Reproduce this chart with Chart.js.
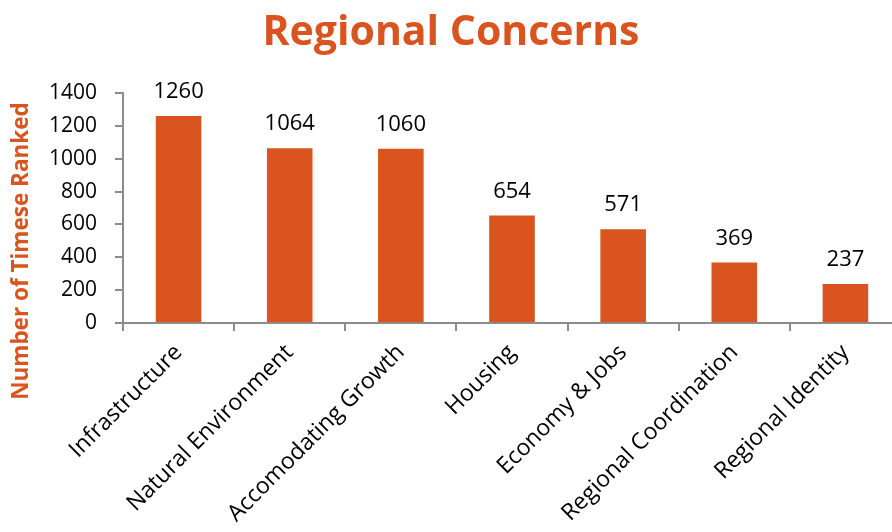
<!DOCTYPE html>
<html>
<head>
<meta charset="utf-8">
<script src="https://cdn.jsdelivr.net/npm/chart.js@4.4.1/dist/chart.umd.min.js"></script>
<style>
  html, body { margin: 0; padding: 0; background: #fff; overflow: hidden; }
  #wrap { width: 892px; height: 532px; overflow: hidden; }
  canvas { display: block; }
</style>
</head>
<body>
<div id="wrap"><canvas id="c" width="905" height="532"></canvas></div>
<script>
const chartTitle = "Regional Concerns";
const yAxisTitle = "Number of Timese Ranked";
const categories = ["Infrastructure", "Natural Environment", "Accomodating Growth", "Housing", "Economy & Jobs", "Regional Coordination", "Regional Identity"];
const values = [1260, 1064, 1060, 654, 571, 369, 237];
const yTicks = [0, 200, 400, 600, 800, 1000, 1200, 1400];

const ORANGE = "#D9541E";
const FONT = "'Open Sans', 'DejaVu Sans', sans-serif";

const decor = {
  id: "decor",
  afterDatasetsDraw(chart) {
    const ctx = chart.ctx;
    ctx.save();
    // title
    ctx.fillStyle = ORANGE;
    ctx.font = "bold 41px " + FONT;
    ctx.textAlign = "center";
    ctx.textBaseline = "middle";
    ctx.fillText(chartTitle, 451, 33);
    // y axis title
    ctx.save();
    ctx.translate(22, 251);
    ctx.rotate(-Math.PI / 2);
    ctx.font = "bold 22.5px " + FONT;
    ctx.fillText(yAxisTitle, 0, 0);
    ctx.restore();
    // data labels
    ctx.fillStyle = "#000";
    ctx.font = "22px " + FONT;
    ctx.textBaseline = "middle";
    const meta = chart.getDatasetMeta(0);
    meta.data.forEach((bar, i) => {
      ctx.fillText(String(values[i]), bar.x, bar.y - 24);
    });
    ctx.restore();
  }
};

new Chart(document.getElementById("c"), {
  type: "bar",
  data: {
    labels: categories,
    datasets: [{
      data: values,
      backgroundColor: ORANGE,
      borderWidth: 0,
      barPercentage: 0.41,
      categoryPercentage: 1.0
    }]
  },
  options: {
    responsive: false,
    animation: false,
    devicePixelRatio: 1,
    layout: { padding: { top: 93, right: 4, left: 0, bottom: 0 } },
    plugins: { legend: { display: false }, title: { display: false }, tooltip: { enabled: false } },
    scales: {
      y: {
        min: 0, max: 1400,
        afterBuildTicks(scale) { scale.ticks = yTicks.map(v => ({ value: v })); },
        afterFit(scale) { scale.width = 123; },
        ticks: { color: "#000", font: { size: 21, family: FONT }, padding: 18, callback: (v) => String(v) },
        grid: { drawOnChartArea: false, drawTicks: true, tickLength: 8, color: "#8c8c8c", lineWidth: 2 },
        border: { color: "#8c8c8c", width: 2 }
      },
      x: {
        afterFit(scale) { scale.height = 209; },
        ticks: { color: "#000", font: { size: 23, family: FONT }, maxRotation: 45, minRotation: 45, padding: 8 },
        grid: { drawOnChartArea: false, drawTicks: true, tickLength: 8, color: "#8c8c8c", lineWidth: 2, offset: true },
        border: { color: "#8c8c8c", width: 2 }
      }
    }
  },
  plugins: [decor]
});
</script>
</body>
</html>
